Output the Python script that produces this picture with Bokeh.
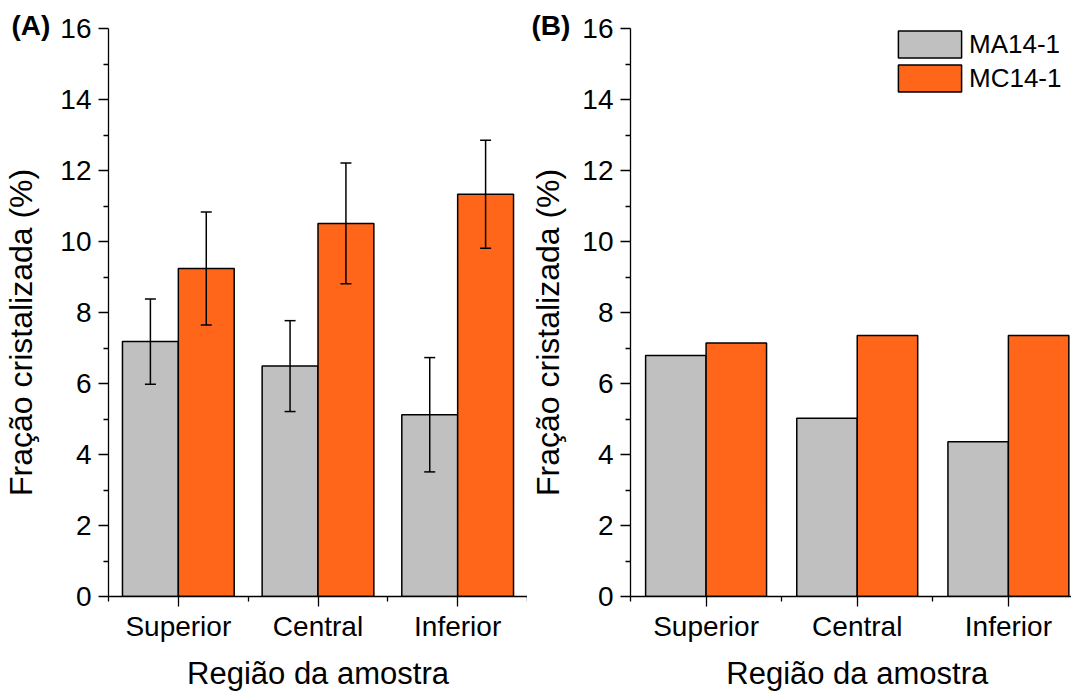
import math
import numpy as np
from bokeh.plotting import figure
from bokeh.models import (FixedTicker, Whisker, TeeHead, ColumnDataSource,
                          Legend, LegendItem, Range1d, LinearAxis, Title)
from bokeh.layouts import row
from bokeh.embed import file_html
from bokeh.resources import INLINE

categories = ["Superior", "Central", "Inferior"]
series_names = ["MA14-1", "MC14-1"]

a_ma = [7.18, 6.49, 5.12]
a_ma_err = [1.20, 1.28, 1.61]
a_mc = [9.24, 10.51, 11.33]
a_mc_err = [1.59, 1.70, 1.52]

b_ma = [6.79, 5.02, 4.36]
b_mc = [7.14, 7.35, 7.35]

y_ticks = [0, 2, 4, 6, 8, 10, 12, 14, 16]
y_minor = [1, 3, 5, 7, 9, 11, 13, 15]

y_title = "Fração cristalizada (%)"
x_title = "Região da amostra"

GRAY = "#C0C0C0"
ORANGE = "#FF6619"
FONT = "Liberation Sans"
TICK_SIZE = "28px"
YLAB_SIZE = "32px"
XLAB_SIZE = "31px"
TAG_SIZE = "28px"

# layout helpers (label anchor positions along the axes)
YLAB_AT = 7.44
XLAB_AT = 2.0


def text_axis(side_axis, tick, text, size, standoff, orientation="horizontal"):
    ax = side_axis(ticker=FixedTicker(ticks=[tick], minor_ticks=[]),
                   major_label_overrides={tick: text})
    ax.axis_line_color = None
    ax.major_tick_line_color = None
    ax.minor_tick_line_color = None
    ax.major_tick_in = 0
    ax.major_tick_out = 0
    ax.minor_tick_in = 0
    ax.minor_tick_out = 0
    ax.major_label_standoff = standoff
    ax.major_label_orientation = orientation
    ax.major_label_text_font = FONT
    ax.major_label_text_font_size = size
    ax.major_label_text_color = "black"
    return ax


def make_panel(width, border_left, border_right, x_end, ma, mc, ma_err, mc_err,
               tag, tag_x, ylab_standoff):
    p = figure(width=width, height=693, output_backend="svg", toolbar_location=None,
               x_range=Range1d(0.5, x_end), y_range=Range1d(0, 16),
               min_border_left=border_left, min_border_right=border_right,
               min_border_top=28, min_border_bottom=96)
    p.outline_line_color = None
    p.xgrid.visible = False
    p.ygrid.visible = False
    p.background_fill_color = "white"

    idx = np.arange(1, len(categories) + 1)
    src_ma = ColumnDataSource(dict(x=idx - 0.2, top=ma))
    src_mc = ColumnDataSource(dict(x=idx + 0.2, top=mc))
    r1 = p.vbar(x="x", top="top", width=0.4, source=src_ma, fill_color=GRAY,
                line_color="black", line_width=1.5)
    r2 = p.vbar(x="x", top="top", width=0.4, source=src_mc, fill_color=ORANGE,
                line_color="black", line_width=1.5)

    if ma_err is not None:
        for vals, errs, off in ((ma, ma_err, -0.2), (mc, mc_err, 0.2)):
            v = np.array(vals)
            e = np.array(errs)
            s = ColumnDataSource(dict(x=idx + off, upper=v + e, lower=v - e))
            w = Whisker(source=s, base="x", upper="upper", lower="lower",
                        line_width=1.5, line_color="black", level="overlay",
                        upper_head=TeeHead(size=11, line_width=1.5, line_color="black"),
                        lower_head=TeeHead(size=11, line_width=1.5, line_color="black"))
            p.add_layout(w)

    # axes
    p.xaxis.ticker = FixedTicker(ticks=list(idx), minor_ticks=[0.5, 1.5, 2.5, 3.5])
    p.xaxis.major_label_overrides = {int(i): c for i, c in zip(idx, categories)}
    p.yaxis.ticker = FixedTicker(ticks=y_ticks, minor_ticks=y_minor)
    for ax in (p.xaxis[0], p.yaxis[0]):
        ax.axis_line_width = 1.3
        ax.axis_line_color = "black"
        ax.major_tick_line_width = 1.3
        ax.minor_tick_line_width = 1.3
        ax.major_tick_line_color = "black"
        ax.minor_tick_line_color = "black"
        ax.major_tick_in = 0
        ax.major_tick_out = 10
        ax.minor_tick_in = 0
        ax.minor_tick_out = 5
        ax.major_label_text_font = FONT
        ax.major_label_text_font_size = TICK_SIZE
        ax.major_label_text_color = "black"
    p.yaxis.major_label_standoff = 7
    p.xaxis.major_label_standoff = 4

    # axis titles drawn as single tick labels on extra axes (outside the frame)
    p.add_layout(text_axis(LinearAxis, YLAB_AT, y_title, YLAB_SIZE, ylab_standoff,
                           orientation="parallel"), "left")
    p.add_layout(text_axis(LinearAxis, XLAB_AT, x_title, XLAB_SIZE, 11), "below")

    # panel tag
    p.add_layout(Title(text=tag, align="left", offset=tag_x - border_left, standoff=-25,
                       text_font=FONT, text_font_size=TAG_SIZE, text_font_style="bold",
                       text_color="black"), "above")
    return p, r1, r2


left, _, _ = make_panel(527, 107, 0, 3.5, a_ma, a_mc, a_ma_err, a_mc_err,
                        "(A)", 10, 18)
right, rb1, rb2 = make_panel(544, 102, 0, 0.5 + 442 / 151.5, b_ma, b_mc, None, None,
                             "(B)", 3, 13)

legend = Legend(items=[LegendItem(label=series_names[0], renderers=[rb1]),
                       LegendItem(label=series_names[1], renderers=[rb2])],
                location=(260, 501), glyph_width=79, glyph_height=34, spacing=0,
                padding=0, margin=0, border_line_color=None, background_fill_alpha=0,
                label_text_font=FONT, label_text_font_size="26px", label_standoff=0,
                label_text_color="black")
right.add_layout(legend)

layout = row(left, right)
open("out.html", "w").write(file_html(layout, INLINE))
